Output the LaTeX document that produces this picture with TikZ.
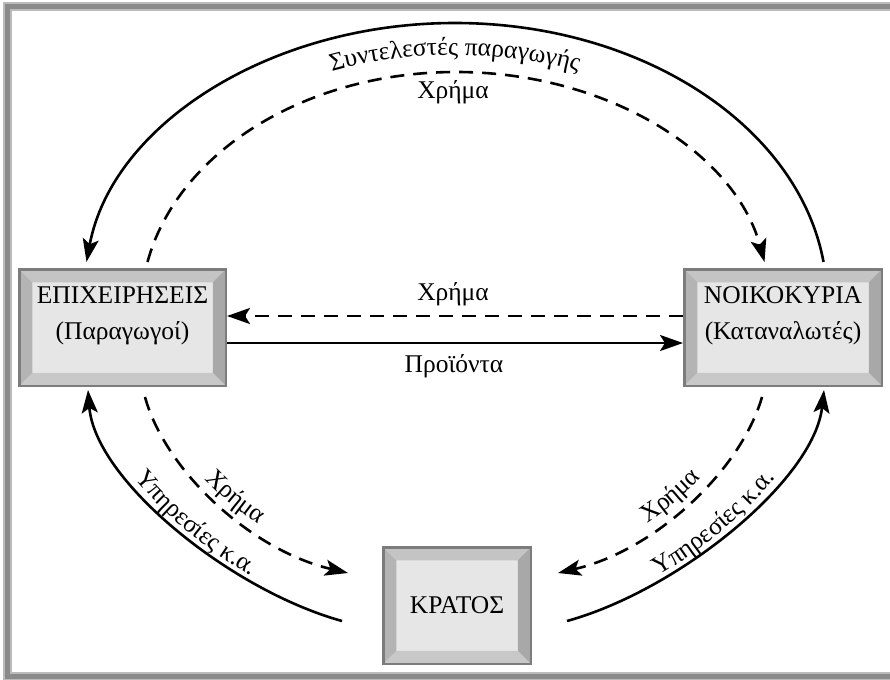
\documentclass[tikz,border=0pt]{standalone}
\usepackage{fontspec}
\setmainfont{Liberation Serif}
\usetikzlibrary{arrows.meta,calc,decorations.text}
\definecolor{innerfill}{HTML}{E6E6E6}
\definecolor{bevtop}{HTML}{C4C4C4}
\definecolor{bevbot}{HTML}{C8C8C8}
\definecolor{bevleft}{HTML}{B4B4B4}
\definecolor{bevright}{HTML}{A8A8A8}
\definecolor{bordercol}{HTML}{7C7C7C}
\definecolor{framelight}{HTML}{BBBBBB}
\definecolor{framedark}{HTML}{8A8A8A}
\newcommand\lblfont{\fontsize{25.5}{30}\selectfont}
\newcommand\boxfont{\fontsize{25.5}{36}\selectfont}
\begin{document}
\begin{tikzpicture}[x=1pt,y=1pt,
  conn/.style={line width=2.6pt, -{Stealth[length=23pt,width=16pt,inset=5pt]}},
  dashconn/.style={conn, dash pattern=on 14pt off 9pt},
  lbl/.style={font=\lblfont, inner sep=0pt},
  bevelbox/.style={draw=bordercol, line width=2.5pt, fill=innerfill,
    minimum height=116.5pt, inner sep=0pt, align=center, font=\boxfont,
    path picture={
      \coordinate (bNW) at (path picture bounding box.north west);
      \coordinate (bNE) at (path picture bounding box.north east);
      \coordinate (bSW) at (path picture bounding box.south west);
      \coordinate (bSE) at (path picture bounding box.south east);
      \fill[bevtop] (bNW) -- (bNE) -- ($(bNE)+(-13,-13)$) -- ($(bNW)+(13,-13)$) -- cycle;
      \fill[bevbot] (bSW) -- (bSE) -- ($(bSE)+(-13,13)$) -- ($(bSW)+(13,13)$) -- cycle;
      \fill[bevleft] (bNW) -- ($(bNW)+(13,-13)$) -- ($(bSW)+(13,13)$) -- (bSW) -- cycle;
      \fill[bevright] (bNE) -- ($(bNE)+(-13,-13)$) -- ($(bSE)+(-13,13)$) -- (bSE) -- cycle;
    }},
  twoline/.style={text height=29.5pt},
  curvelbl/.style 2 args={decorate, decoration={text along path, text={|\lblfont|#1}, text align=center, raise=#2}}
]
\useasboundingbox (0,0) rectangle (890,-679);
\begin{scope}
  \clip (0,0) rectangle (890,-679);
  \draw[line width=9pt, framelight] (7,-7) rectangle (905,-676);
  \draw[line width=5pt, framedark] (7,-7) rectangle (905,-676);
\end{scope}

% boxes
\node[bevelbox, twoline, minimum width=206.5pt] (firms) at (122.5,-327.5) {ΕΠΙΧΕΙΡΗΣΕΙΣ\\(Παραγωγοί)};
\node[bevelbox, twoline, minimum width=197.5pt] (house) at (783,-327.5) {ΝΟΙΚΟΚΥΡΙΑ\\(Καταναλωτές)};
\node[bevelbox, minimum width=147.5pt] (state) at (457,-605.5) {ΚΡΑΤΟΣ};

% horizontal connectors
\draw[dashconn] ($(house.west)+(0,11.5)$) -- ($(firms.east)+(0,11.5)$);
\draw[conn] ($(firms.east)+(0,-15.5)$) -- ($(house.west)+(0,-15.5)$);
\node[lbl, anchor=base] (hmoney) at (453,-300) {Χρήμα};
\node[lbl, anchor=base] (hgoods) at (454,-372) {Προϊόντα};

% top arcs
\coordinate (ts) at (823.5,-261.9);
\coordinate (tp) at (455,-23);
\coordinate (te) at (86.5,-261.9);
\draw[conn] (ts) .. controls (798,-125) and (640.5,-23) .. (tp)
  .. controls (269.5,-23) and (112,-125) .. (te);
\coordinate (ds) at (147.5,-262);
\coordinate (dp) at (456,-72);
\coordinate (de) at (764.5,-262);
\draw[dashconn] (ds) .. controls (177.6,-151.4) and (306.5,-72) .. (dp)
  .. controls (605.5,-72) and (734.4,-151.4) .. (de);
\path[decorate, decoration={text along path, text={|\lblfont|Συντελεστές παραγωγής}, text align=center}]
  (115,-300) .. controls (115,-164.7) and (267.2,-55) .. (455,-55)
  .. controls (642.8,-55) and (795,-164.7) .. (795,-300);
\node[lbl, anchor=base] (tmoney) at (453,-99) {Χρήμα};

% bottom left
\coordinate (bls) at (342,-621);
\coordinate (ble) at (88,-390);
\draw[conn] (bls) .. controls (230,-590) and (95,-480) .. (ble);
\path[curvelbl={Υπηρεσίες κ.α.}{5pt}] (ble) .. controls (95,-480) and (230,-590) .. (bls);
\coordinate (blds) at (145,-397);
\coordinate (blde) at (348,-573);
\draw[dashconn] (blds) .. controls (165,-470) and (250,-550) .. (blde);
\path[curvelbl={Χρήμα}{9pt}] (blds) .. controls (165,-470) and (250,-550) .. (blde);

% bottom right
\coordinate (brds) at (762,-397);
\coordinate (brde) at (558,-573);
\draw[dashconn] (brds) .. controls (741,-470) and (656,-550) .. (brde);
\path[curvelbl={Χρήμα}{10pt}] (brde) .. controls (656,-550) and (741,-470) .. (brds);
\coordinate (brs) at (567,-621);
\coordinate (bre) at (824,-390);
\draw[conn] (brs) .. controls (679,-590) and (814,-480) .. (bre);
\path[curvelbl={Υπηρεσίες κ.α.}{5pt}] (brs) .. controls (679,-590) and (814,-480) .. (bre);
\end{tikzpicture}
\end{document}
